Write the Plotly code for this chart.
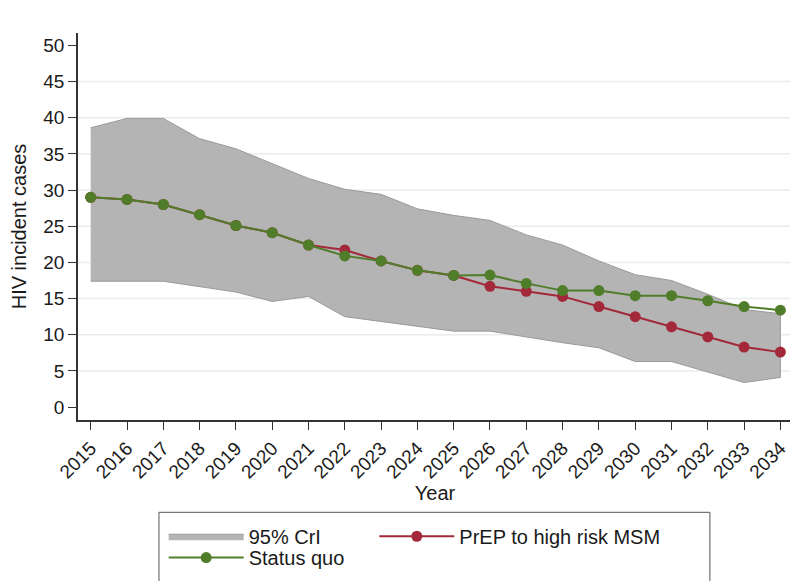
import plotly.graph_objects as go

years = list(range(2015, 2035))
status_quo = [29.0, 28.7, 28.0, 26.6, 25.1, 24.1, 22.4, 20.9, 20.2, 18.9,
              18.2, 18.25, 17.1, 16.1, 16.1, 15.4, 15.4, 14.7, 13.9, 13.4]
prep = [29.0, 28.7, 28.0, 26.6, 25.1, 24.1, 22.4, 21.7, 20.2, 18.9,
        18.2, 16.7, 16.0, 15.3, 13.9, 12.5, 11.1, 9.7, 8.3, 7.6]
cri_upper = [38.6, 39.9, 39.9, 37.1, 35.7, 33.6, 31.6, 30.1, 29.4, 27.4,
             26.5, 25.8, 23.8, 22.4, 20.2, 18.3, 17.5, 15.6, 13.5, 12.9]
cri_lower = [17.4, 17.4, 17.4, 16.7, 15.9, 14.6, 15.3, 12.5, 11.9, 11.2,
             10.5, 10.5, 9.7, 8.9, 8.2, 6.3, 6.3, 4.8, 3.4, 4.1]
y_ticks = list(range(0, 55, 5))

GREEN = "#507d2a"
RED = "#a3283a"
FONT = "Liberation Sans, Arial, sans-serif"

fig = go.Figure()
fig.add_trace(go.Scatter(
    x=years + years[::-1], y=cri_upper + cri_lower[::-1],
    fill="toself", fillcolor="#b4b4b4", mode="lines",
    line=dict(color="#9a9a9a", width=1), name="95% CrI", hoverinfo="skip",
    legend="legend"))
fig.add_trace(go.Scatter(
    x=years, y=prep, mode="lines+markers", name="PrEP to high risk MSM",
    line=dict(color=RED, width=2), marker=dict(color=RED, size=11),
    legend="legend2"))
fig.add_trace(go.Scatter(
    x=years, y=status_quo, mode="lines+markers", name="Status quo",
    line=dict(color=GREEN, width=2), marker=dict(color=GREEN, size=11),
    legend="legend3"))

for v in y_ticks[1:-1]:
    fig.add_shape(type="line", xref="paper", x0=0, x1=1, yref="y", y0=v, y1=v,
                  line=dict(color="#e9ecee", width=1.5), layer="below")

# legend frame
fig.add_shape(type="rect", xref="paper", yref="paper",
              x0=0.1134, x1=0.885, y0=-0.2385, y1=-0.45,
              line=dict(color="#555", width=1), fillcolor="rgba(0,0,0,0)")

leg = dict(orientation="h", xanchor="left", yanchor="top", borderwidth=0,
           bgcolor="rgba(0,0,0,0)", font=dict(size=20), itemwidth=75)

fig.update_layout(
    width=798, height=581,
    margin=dict(l=70, r=14, t=25, b=166),
    paper_bgcolor="white", plot_bgcolor="white",
    font=dict(family=FONT, size=19, color="#1a1a1a"),
    showlegend=True,
    legend=dict(leg, x=0.12, y=-0.25),
    legend2=dict(leg, x=0.415, y=-0.25),
    legend3=dict(leg, x=0.12, y=-0.305),
)
fig.update_xaxes(
    range=[2014.65, 2034.32], tickmode="array", tickvals=years,
    ticktext=[str(y) for y in years], tickangle=-45, automargin=False,
    tickfont=dict(size=19),
    showgrid=False, zeroline=False, showline=True, linecolor="#333", linewidth=1.5,
    ticks="outside", ticklen=8, tickcolor="#333",
    title=dict(text="Year", font=dict(size=20), standoff=4))
fig.update_yaxes(
    range=[-1.78, 51.7], tickmode="array", tickvals=y_ticks, automargin=False,
    tickfont=dict(size=19),
    showgrid=False, zeroline=False, showline=True, linecolor="#333", linewidth=1.5,
    ticks="outside", ticklen=8, tickcolor="#333",
    title=dict(text="HIV incident cases", font=dict(size=20), standoff=12))

fig.write_html("out.html")
